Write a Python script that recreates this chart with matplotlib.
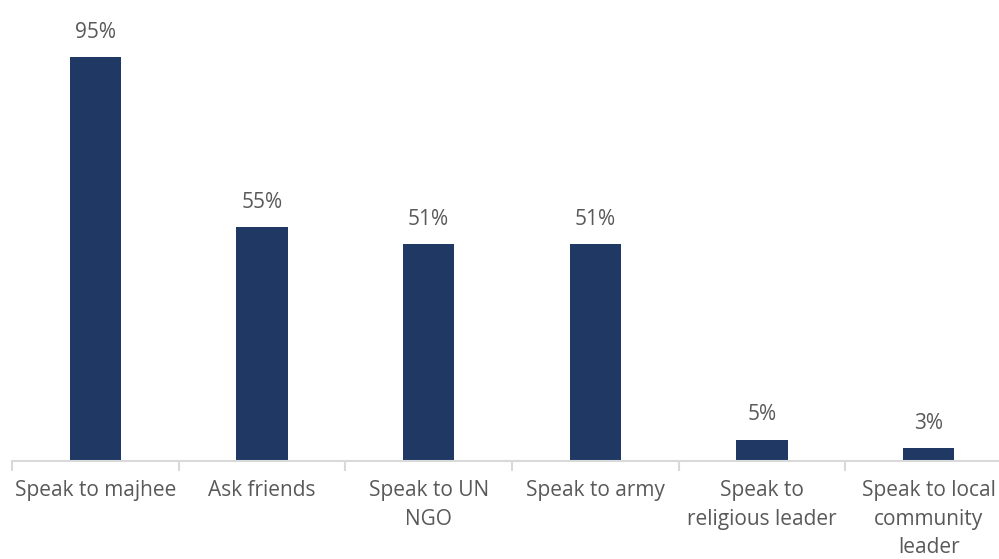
import matplotlib.pyplot as plt
import numpy as np

categories = ["Speak to majhee", "Ask friends", "Speak to UN\nNGO", "Speak to army",
              "Speak to\nreligious leader", "Speak to local\ncommunity\nleader"]
values = [95, 55, 51, 51, 5, 3]

bar_color = "#203864"
text_color = "#595959"
axis_color = "#D9D9D9"

plt.rcParams["font.family"] = ["Open Sans", "DejaVu Sans"]

fig = plt.figure(figsize=(9.99, 5.59), dpi=100)
# axes spans the full category band; it runs slightly past the right edge
ax = fig.add_axes([12 / 999, (559 - 461) / 559, 1000 / 999, 425 / 559])

x = np.arange(len(categories))
bars = ax.bar(x, values, width=0.31, color=bar_color, zorder=2)

for bar, v in zip(bars, values):
    ax.annotate(f"{v}%", (bar.get_x() + bar.get_width() / 2, v),
                xytext=(0, 10.5), textcoords="offset points",
                ha="center", va="bottom", fontsize=15, color=text_color)

ax.set_xlim(-0.5, len(categories) - 0.5)
ax.set_ylim(0, 100)

ax.set_yticks([])
for side in ["left", "right", "top"]:
    ax.spines[side].set_visible(False)
ax.spines["bottom"].set_color(axis_color)
ax.spines["bottom"].set_linewidth(1.5)

# category labels centred, tick marks on the boundaries
ax.set_xticks(x)
ax.set_xticklabels(categories, fontsize=15, color=text_color, linespacing=1.45)
ax.tick_params(axis="x", which="major", length=0, pad=14)
ax.set_xticks(np.arange(-0.5, len(categories), 1), minor=True)
ax.tick_params(axis="x", which="minor", length=7, width=1.5, color=axis_color)

fig.savefig("out.png", dpi=100)
